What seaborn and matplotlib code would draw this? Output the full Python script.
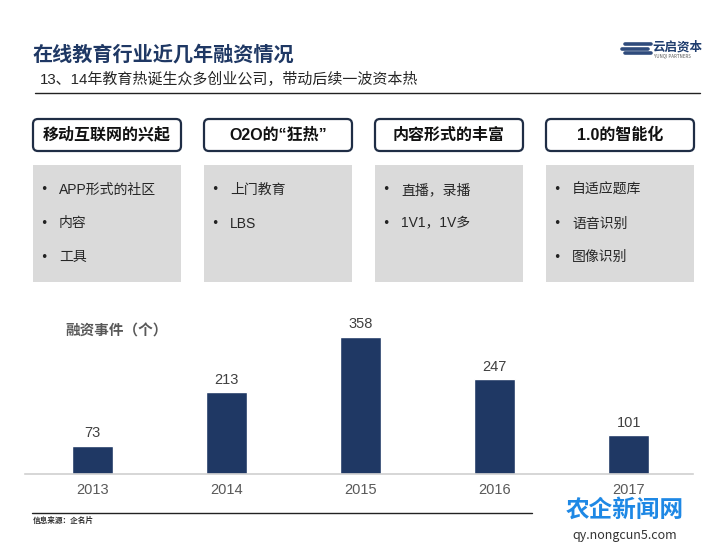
import matplotlib
matplotlib.use("Agg")
import matplotlib.pyplot as plt
import seaborn as sns
import pandas as pd
from matplotlib.patches import FancyBboxPatch, Rectangle

sns.set_theme(style="white")
plt.rcParams['font.family'] = ['Noto Sans CJK SC', 'DejaVu Sans']
MIX = ['Liberation Sans', 'Noto Sans CJK SC', 'DejaVu Sans']

# ---- data ----
years = ["2013", "2014", "2015", "2016", "2017"]
events = [73, 213, 358, 247, 101]
title = "在线教育行业近几年融资情况"
subtitle = "13、14年教育热诞生众多创业公司，带动后续一波资本热"
headers = ["移动互联网的兴起", "O2O的“狂热”", "内容形式的丰富", "1.0的智能化"]
bullets = [["APP形式的社区", "内容", "工具"],
           ["上门教育", "LBS"],
           ["直播，录播", "1V1，1V多"],
           ["自适应题库", "语音识别", "图像识别"]]
ylabel = "融资事件（个）"
source = "信息来源：企名片"

NAVY = "#1f3864"
W, H = 725, 544
fig = plt.figure(figsize=(W / 100, H / 100), dpi=100)
fig.patch.set_facecolor("white")

# background axes in pixel coordinates
bg = fig.add_axes([0, 0, 1, 1])
bg.set_xlim(0, W)
bg.set_ylim(H, 0)
bg.axis("off")

bg.text(33, 54, title, fontsize=14.5, fontweight="bold", color=NAVY, va="center", ha="left")
bg.text(40, 79, subtitle, fontsize=10.8, color="#262626", va="center", ha="left", family=MIX)
bg.plot([35, 700], [93, 93], color="#222222", lw=1)

# logo
for i, (x0, x1) in enumerate([(625, 651), (622, 648), (625, 651)]):
    bg.plot([x0, x1], [44 + i * 4.5, 44 + i * 4.5], color="#2f4b7c", lw=2.6, solid_capstyle="round")
bg.text(652, 47, "云启资本", fontsize=9, fontweight="bold", fontstyle="italic", color="#1f3d6e",
        va="center", ha="left")
bg.text(654, 56, "YUNQI PARTNERS", fontsize=3.2, color="#555555", va="center", ha="left")

lefts = [33, 204, 375, 546]
bw = 148
for left, head, items in zip(lefts, headers, bullets):
    hb = FancyBboxPatch((left, 119), bw, 32, boxstyle="round,pad=0,rounding_size=5",
                        facecolor="white", edgecolor="#1f2d45", lw=1.6)
    bg.add_patch(hb)
    bg.text(left + bw / 2, 135, head, fontsize=11.5, fontweight="bold", color="#111111",
            ha="center", va="center", family=MIX)
    bg.add_patch(Rectangle((left, 165), bw, 117, facecolor="#dadada", edgecolor="none"))
    for j, it in enumerate(items):
        y = 190 + j * 33.5
        bg.text(left + 7, y, "•", fontsize=9, color="#222222", ha="left", va="center",
                family="DejaVu Sans")
        bg.text(left + 26, y, it, fontsize=10, color="#262626", ha="left", va="center", family=MIX)

bg.text(65, 331, ylabel, fontsize=10.5, fontweight="bold", color="#595959", ha="left", va="center")
bg.plot([32, 532], [513, 513], color="#222222", lw=1)
bg.text(33, 520, source, fontsize=5.5, color="#333333", ha="left", va="center", fontweight="bold")

# watermark
bg.text(625, 510, "农企新闻网", fontsize=17, fontweight="bold", color="#1e88e5", ha="center", va="center")
bg.text(625, 535, "qy.nongcun5.com", fontsize=9, color="#333333", ha="center", va="center")

# ---- bar chart ----
df = pd.DataFrame({"year": years, "events": events})
base = 474
ax = fig.add_axes([25 / W, (H - base) / H, 668 / W, (base - 300) / H])
sns.barplot(data=df, x="year", y="events", color=NAVY, width=0.31, saturation=1, ax=ax)
ax.set_xlim(-0.504, 4.48)
ax.set_ylim(0, 454)
ax.set_facecolor("none")
for s in ["top", "right", "left"]:
    ax.spines[s].set_visible(False)
ax.spines["bottom"].set_color("#d0d0d0")
ax.spines["bottom"].set_linewidth(1.2)
ax.set_yticks([])
ax.set_xlabel("")
ax.set_ylabel("")
ax.tick_params(axis="x", length=0, pad=6.5, labelsize=10.5, labelcolor="#595959")
for lab in ax.get_xticklabels():
    lab.set_fontfamily(["Liberation Sans", "DejaVu Sans"])
for c in ax.containers:
    labels = ax.bar_label(c, padding=4, fontsize=10.5, color="#404040")
    for t in labels:
        t.set_fontfamily(["Liberation Sans", "DejaVu Sans"])

fig.savefig("out.png", dpi=100, facecolor="white")
